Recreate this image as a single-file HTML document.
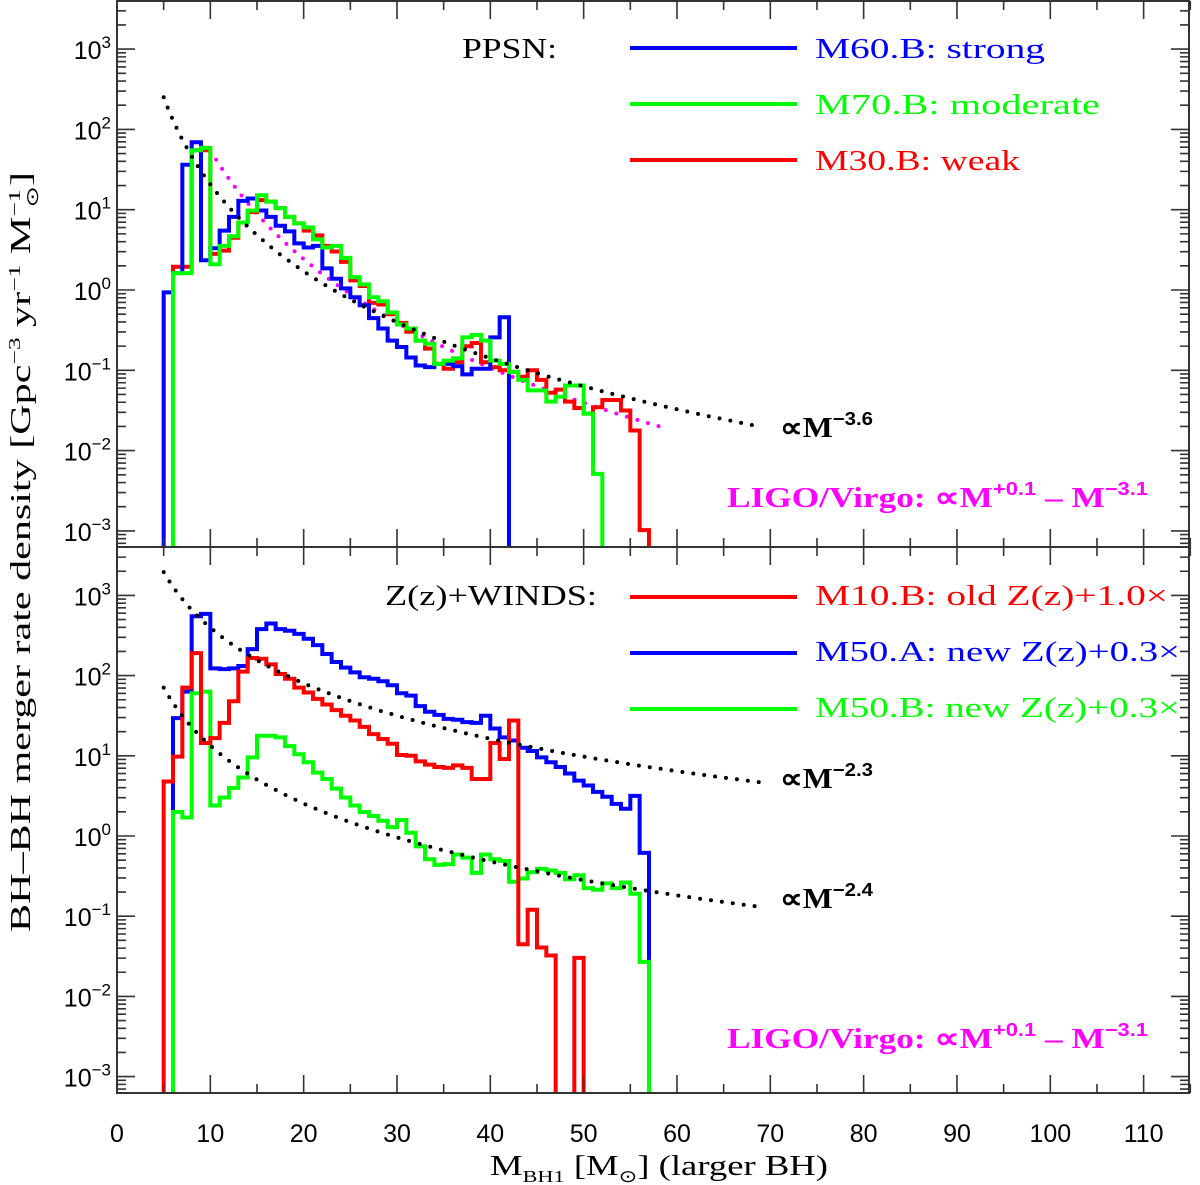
<!DOCTYPE html>
<html><head><meta charset="utf-8"><style>
html,body{margin:0;padding:0;background:#fff}
svg{display:block}
.tk{font-family:"Liberation Sans",sans-serif;font-size:25px;fill:#000}
.sf{font-family:"Liberation Serif",serif;fill:#000}
</style></head><body>
<svg id="chart" width="1200" height="1185" viewBox="0 0 1200 1185" xmlns="http://www.w3.org/2000/svg">
<defs>
<clipPath id="clipTop"><rect x="117" y="1" width="1072" height="546"/></clipPath>
<clipPath id="clipBot"><rect x="117" y="547" width="1072" height="546"/></clipPath>
</defs>
<g id="marksTop" clip-path="url(#clipTop)"></g>
<g id="marksBot" clip-path="url(#clipBot)"></g>
<g id="axes"></g>
<g>
<text class="sf" x="462" y="58" font-size="29" textLength="95" lengthAdjust="spacingAndGlyphs">PPSN:</text>
<line x1="630" y1="48" x2="797" y2="48" stroke="#0000ff" stroke-width="4"/>
<text class="sf" x="815" y="58" font-size="29" textLength="230" lengthAdjust="spacingAndGlyphs" style="fill:#0000ff">M60.B: strong</text>
<line x1="630" y1="104" x2="797" y2="104" stroke="#00ff00" stroke-width="4"/>
<text class="sf" x="815" y="114" font-size="29" textLength="285" lengthAdjust="spacingAndGlyphs" style="fill:#00ff00">M70.B: moderate</text>
<line x1="630" y1="160" x2="797" y2="160" stroke="#ff0000" stroke-width="4"/>
<text class="sf" x="815" y="170" font-size="29" textLength="205" lengthAdjust="spacingAndGlyphs" style="fill:#ff0000">M30.B: weak</text>
</g>
<g>
<text class="sf" x="385" y="605" font-size="29" textLength="212" lengthAdjust="spacingAndGlyphs">Z(z)+WINDS:</text>
<line x1="630" y1="597" x2="797" y2="597" stroke="#ff0000" stroke-width="4"/>
<text class="sf" x="815" y="605" font-size="29" textLength="353" lengthAdjust="spacingAndGlyphs" style="fill:#ff0000">M10.B: old Z(z)+1.0×</text>
<line x1="630" y1="653" x2="797" y2="653" stroke="#0000ff" stroke-width="4"/>
<text class="sf" x="815" y="661" font-size="29" textLength="365" lengthAdjust="spacingAndGlyphs" style="fill:#0000ff">M50.A: new Z(z)+0.3×</text>
<line x1="630" y1="709" x2="797" y2="709" stroke="#00ff00" stroke-width="4"/>
<text class="sf" x="815" y="717" font-size="29" textLength="365" lengthAdjust="spacingAndGlyphs" style="fill:#00ff00">M50.B: new Z(z)+0.3×</text>
</g>
<g font-family="Liberation Serif, serif" font-weight="bold">
<text x="780" y="437" font-size="28" textLength="93" lengthAdjust="spacingAndGlyphs">∝M<tspan font-size="18" dy="-12" font-family="Liberation Sans, sans-serif">−3.6</tspan></text>
<text x="780" y="788" font-size="28" textLength="93" lengthAdjust="spacingAndGlyphs">∝M<tspan font-size="18" dy="-12" font-family="Liberation Sans, sans-serif">−2.3</tspan></text>
<text x="780" y="908" font-size="28" textLength="93" lengthAdjust="spacingAndGlyphs">∝M<tspan font-size="18" dy="-12" font-family="Liberation Sans, sans-serif">−2.4</tspan></text>
<text x="727" y="507" font-size="29" fill="#ff00ff" textLength="421" lengthAdjust="spacingAndGlyphs">LIGO/Virgo: ∝M<tspan font-size="18" dy="-12" font-family="Liberation Sans, sans-serif">+0.1</tspan><tspan dy="12">  –  M</tspan><tspan font-size="18" dy="-12" font-family="Liberation Sans, sans-serif">−3.1</tspan></text>
<text x="727" y="1048" font-size="29" fill="#ff00ff" textLength="421" lengthAdjust="spacingAndGlyphs">LIGO/Virgo: ∝M<tspan font-size="18" dy="-12" font-family="Liberation Sans, sans-serif">+0.1</tspan><tspan dy="12">  –  M</tspan><tspan font-size="18" dy="-12" font-family="Liberation Sans, sans-serif">−3.1</tspan></text>
</g>
<text class="sf" font-size="28" transform="translate(30,552) rotate(-90)" text-anchor="middle" textLength="760" lengthAdjust="spacingAndGlyphs">BH–BH merger rate density [Gpc<tspan font-size="17" dy="-10">−3</tspan><tspan dy="10"> yr</tspan><tspan font-size="17" dy="-10">−1</tspan><tspan dy="10"> M</tspan><tspan font-size="17" dy="-10">−1</tspan><tspan font-size="17" dx="-12" dy="18">⊙</tspan><tspan dy="-8">]</tspan></text>
<text class="sf" font-size="28" x="490" y="1175" textLength="338" lengthAdjust="spacingAndGlyphs">M<tspan font-size="17" dy="7">BH1</tspan><tspan dy="-7"> [M</tspan><tspan font-size="17" dy="7">⊙</tspan><tspan dy="-7">] (larger BH)</tspan></text>
</svg>
<script>
// ---- data: log10 values per 1-Msun bin; null = empty bin ----
const topBlueStart = 5;
const topBlue = [-0.03,0.21,1.56,1.84,0.37,0.52,0.74,0.91,1.11,1.14,0.99,0.91,0.80,0.73,0.58,0.53,0.55,0.27,0.14,0.02,-0.09,-0.19,-0.35,-0.48,-0.63,-0.71,-0.84,-0.94,-0.96,-0.92,-0.92,-0.95,-1.05,-0.98,-0.98,-0.59,-0.34];
const topGreenStart = 6;
const topGreen = [0.21,0.21,1.74,1.77,0.32,0.55,0.67,0.84,0.99,1.18,1.10,1.02,0.91,0.83,0.78,0.63,0.53,0.55,0.40,0.16,0.07,-0.09,-0.14,-0.28,-0.43,-0.48,-0.63,-0.67,-0.92,-0.88,-0.85,-0.59,-0.56,-0.63,-0.88,-0.92,-1.02,-1.12,-1.25,-1.25,-1.39,-1.33,-1.19,-1.19,-1.54,-2.29];
const topRedStart = 6;
const topRed = [0.29,0.29,1.74,1.74,0.45,0.49,0.65,0.84,0.97,1.12,1.10,1.02,0.91,0.83,0.74,0.68,0.55,0.48,0.35,0.12,0.05,-0.16,-0.18,-0.30,-0.41,-0.52,-0.63,-0.73,-0.92,-0.98,-0.90,-0.70,-0.66,-0.90,-0.96,-1.0,-1.02,-1.08,-1.0,-1.12,-1.28,-1.24,-1.39,-1.47,-1.54,-1.46,-1.37,-1.37,-1.5,-1.75,-2.99];
const botBlueStart = 6;
const botBlue = [1.47,1.80,2.74,2.77,2.09,2.08,2.09,2.12,2.33,2.58,2.65,2.58,2.56,2.52,2.46,2.38,2.27,2.17,2.10,2.04,1.98,1.96,1.93,1.88,1.78,1.75,1.62,1.55,1.51,1.46,1.45,1.42,1.41,1.50,1.34,1.23,1.19,1.10,1.06,0.98,0.92,0.86,0.78,0.69,0.63,0.55,0.49,0.40,0.34,0.50,-0.21];
const botRedStart = 5;
const botRed = [0.68,0.99,1.85,2.28,1.16,1.22,1.41,1.68,2.05,2.22,2.21,2.14,2.02,1.96,1.85,1.79,1.71,1.64,1.57,1.50,1.44,1.36,1.27,1.21,1.15,1.01,1.0,0.93,0.89,0.86,0.85,0.88,0.85,0.71,0.71,1.16,0.96,1.44,-1.35,-0.92,-1.39,-1.49,null,null,-1.52];
const botGreenStart = 6;
const botGreen = [0.30,0.23,1.78,1.80,0.38,0.48,0.60,0.73,0.98,1.25,1.25,1.23,1.12,1.02,0.92,0.79,0.71,0.59,0.48,0.38,0.30,0.25,0.19,0.11,0.20,0.04,-0.13,-0.29,-0.36,-0.35,-0.23,-0.27,-0.46,-0.23,-0.29,-0.31,-0.57,-0.53,-0.45,-0.41,-0.43,-0.46,-0.54,-0.49,-0.65,-0.67,-0.59,-0.65,-0.58,-0.72,-1.57];
// power-law guides: [slope, x0, log10 y0 at x0, xEnd]
const guideTop = [-3.6, 5, 2.4, 69];
const guideMagenta = [-4.5, 10, 1.74, 59];
const guideBotUpper = [-2.3, 5, 3.29, 69];
const guideBotLower = [-2.4, 5, 1.85, 69];
const xTickLabels = [0,10,20,30,40,50,60,70,80,90,100,110];
const yExps = [3,2,1,0,-1,-2,-3];

const NS = "http://www.w3.org/2000/svg";
const X = v => 117 + v * 9.333;
const Yt = l => 290 - l * 80.3;
const Yb = l => 836 - l * 80.2;
const TOPB = 560, BOTB = 1110;

function mk(tag, attrs, parent) {
  const e = document.createElementNS(NS, tag);
  for (const k in attrs) e.setAttribute(k, attrs[k]);
  parent.appendChild(e);
  return e;
}
function hist(parent, start, vals, Y, floorY, color, name) {
  let d = "M" + X(start) + "," + floorY;
  vals.forEach((v, i) => {
    const y = v === null ? floorY : Y(v);
    d += " L" + X(start + i) + "," + y + " L" + X(start + i + 1) + "," + y;
  });
  d += " L" + X(start + vals.length) + "," + floorY;
  const p = mk("path", {d: d, fill: "none", stroke: color, "stroke-width": 4, "stroke-linejoin": "miter"}, parent);
  
  
}
function guide(parent, g, Y, color, name) {
  let d = "";
  for (let m = g[1]; m <= g[3] + 1e-9; m += 0.25) {
    const l = g[2] + g[0] * Math.log10(m / g[1]);
    d += (d ? " L" : "M") + X(m).toFixed(1) + "," + Y(l).toFixed(1);
  }
  const p = mk("path", {d: d, fill: "none", stroke: color, "stroke-width": 4, "stroke-dasharray": "0 11", "stroke-linecap": "round"}, parent);
  
  
}
const gt = document.getElementById("marksTop");
const gb = document.getElementById("marksBot");
guide(gt, guideMagenta, Yt, "#ff00ff", "ligo-virgo-guide-top");
hist(gt, topRedStart, topRed, Yt, TOPB, "#ff0000", "hist-m30b-weak");
hist(gt, topBlueStart, topBlue, Yt, TOPB, "#0000ff", "hist-m60b-strong");
hist(gt, topGreenStart, topGreen, Yt, TOPB, "#00ff00", "hist-m70b-moderate");
guide(gt, guideTop, Yt, "#000", "powerlaw-guide-3p6");
hist(gb, botBlueStart, botBlue, Yb, BOTB, "#0000ff", "hist-m50a");
hist(gb, botGreenStart, botGreen, Yb, BOTB, "#00ff00", "hist-m50b");
hist(gb, botRedStart, botRed, Yb, BOTB, "#ff0000", "hist-m10b");
guide(gb, guideBotUpper, Yb, "#000", "powerlaw-guide-2p3");
guide(gb, guideBotLower, Yb, "#000", "powerlaw-guide-2p4");

const ax = document.getElementById("axes");
const L = 117, R = 1189;
const fr = mk("rect", {x: L, y: 1, width: R - L, height: 1092, fill: "none", stroke: "#333", "stroke-width": 2}, ax);


const dv = mk("line", {x1: L, y1: 547, x2: R, y2: 547, stroke: "#333", "stroke-width": 2}, ax);


let td = "";
for (let v = 0; v <= 115; v += 5) {
  const len = v % 10 === 0 ? 18 : 9, x = X(v);
  [[1, 1], [547, -1], [547, 1], [1093, -1]].forEach(([y0, s]) => { td += `M${x},${y0} v${s * len} `; });
}
function yTicks(Y, lo, hi) {
  for (let e = lo; e <= hi; e++) for (let k = 1; k <= 9; k++) {
    const l = e + Math.log10(k), y = Y(l);
    if (y < 2 || y > 1092 || (Y === Yt && y > 546) || (Y === Yb && y < 548)) continue;
    const len = k === 1 ? 18 : 9;
    td += `M${L},${y} h${len} M${R},${y} h${-len} `;
  }
}
yTicks(Yt, -4, 3); yTicks(Yb, -4, 3);
const tp = mk("path", {d: td, stroke: "#333", "stroke-width": 1.6, fill: "none"}, ax);


xTickLabels.forEach(v => {
  const t = mk("text", {x: X(v), y: 1142, "text-anchor": "middle", class: "tk"}, ax);
  t.textContent = v;
  
  
});
[Yt, Yb].forEach(Y => yExps.forEach(e => {
  const t = mk("text", {x: 111, y: Y(e) + 10, "text-anchor": "end", class: "tk"}, ax);
  t.textContent = "10";
  const s = mk("tspan", {"font-size": 17, dy: -11}, t);
  s.textContent = e < 0 ? "−" + (-e) : String(e);
  
  
}));
</script>
</body></html>
